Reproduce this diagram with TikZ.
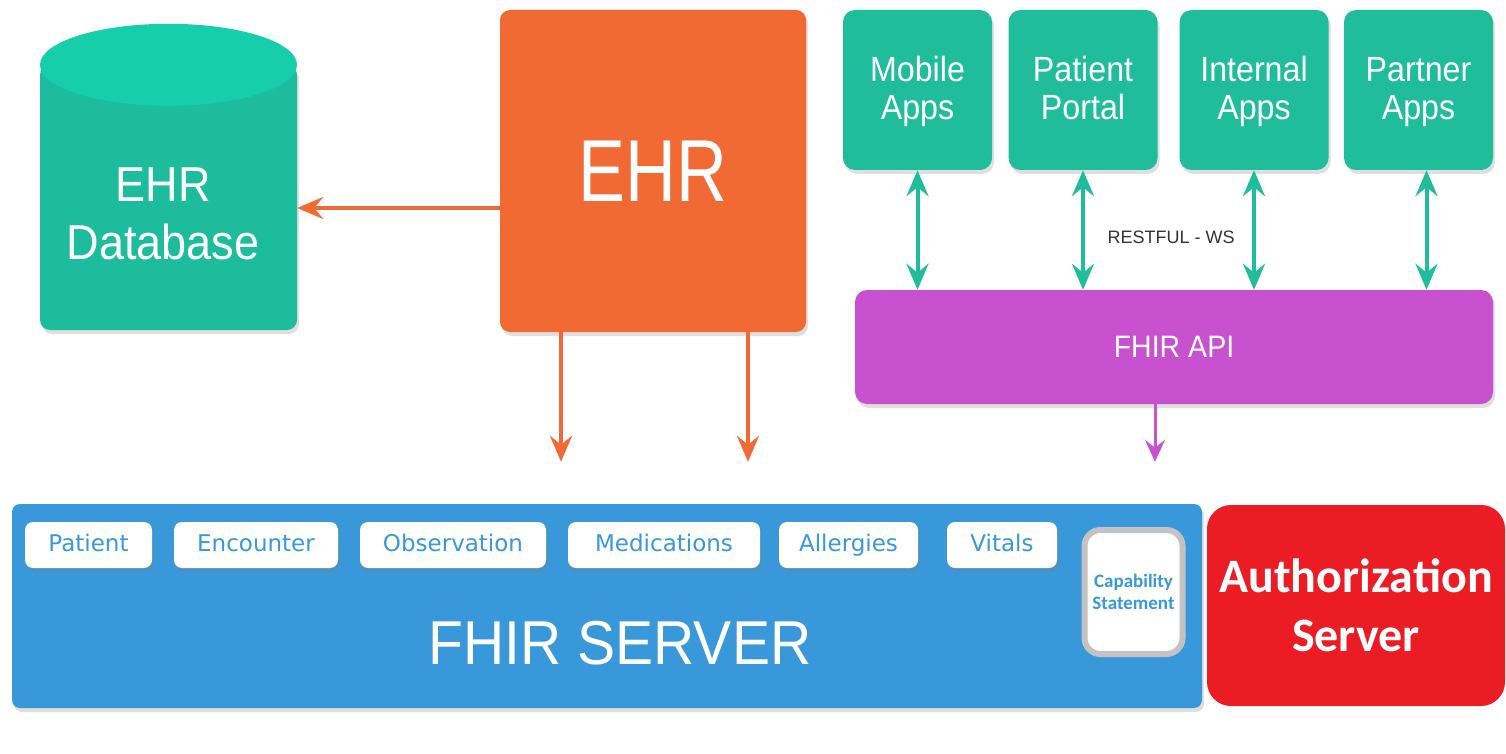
\documentclass[tikz,border=0pt]{standalone}
\usepackage{fontspec}
\setmainfont{Liberation Sans}[FakeStretch=0.92]
\newfontfamily\ehrfont{Liberation Sans}[FakeStretch=0.8]
\newfontfamily\plainfont{Liberation Sans}
\newfontfamily\pillfont{DejaVu Sans}
\newfontfamily\calfont{Carlito}
\usetikzlibrary{arrows.meta,shadows}
\definecolor{dbbody}{HTML}{1DBC9C}
\definecolor{dbtop}{HTML}{16CFAA}
\definecolor{app}{HTML}{1FBD9C}
\definecolor{ehr}{HTML}{F26A33}
\definecolor{api}{HTML}{C851CF}
\definecolor{server}{HTML}{3898DA}
\definecolor{auth}{HTML}{EC1C24}
\definecolor{capa}{HTML}{C3C3C3}
\definecolor{rest}{HTML}{333333}

\begin{document}
\begin{tikzpicture}[x=1pt, y=-1pt,
    shade/.style={drop shadow={shadow xshift=2pt, shadow yshift=-4pt, opacity=0.25}},
    app/.style={shape=rectangle, rounded corners=12pt, fill=app, text=white, align=center,
      minimum width=149pt, minimum height=160pt, text height=63pt, text depth=3pt,
      font=\fontsize{35}{38}\selectfont, shade},
    pill/.style={shape=rectangle, rounded corners=8pt, fill=white, text=server,
      minimum height=46pt, text height=17pt, text depth=5pt,
      font=\pillfont\fontsize{23}{24}\selectfont, shade},
    ehrline/.style={draw=ehr, line width=4pt, -{Stealth[length=26pt, width=22pt, inset=9pt]}},
    appline/.style={draw=app, line width=4pt, {Stealth[length=26pt, width=22pt, inset=9pt]}-{Stealth[length=26pt, width=22pt, inset=9pt]}},
    apiline/.style={draw=api, line width=3pt, -{Stealth[length=22pt, width=20pt, inset=8pt]}}]
  \useasboundingbox (0,0) rectangle (1506,754);

  % database on the left
  \node at (168.5,197.5) (db) [shape=rectangle, fill=dbbody, rounded corners=10pt,
    minimum width=257pt, minimum height=265pt, shade] {};
  \fill[dbtop] (db.north) ellipse (128.5 and 41);
  \node at (163,214) (dblabel) [text=white, align=center, font=\fontsize{49}{58}\selectfont] {EHR\\Database};

  % the EHR itself
  \node at (653,171) (ehr) [shape=rectangle, fill=ehr, rounded corners=10pt,
    minimum width=306pt, minimum height=322pt, text=white, font=\ehrfont\fontsize{88}{88}\selectfont, shade] {EHR};

  % client apps
  \node at (917.5,90) (mobile) [app] {Mobile\\Apps};
  \node at (1083,90) (portal) [app] {Patient\\Portal};
  \node at (1254,90) (internal) [app] {Internal\\Apps};
  \node at (1418.5,90) (partner) [app] {Partner\\Apps};

  \node at (1174,347) (api) [shape=rectangle, fill=api, rounded corners=12pt,
    minimum width=638pt, minimum height=114pt, text=white, font=\fontsize{31}{31}\selectfont, shade] {FHIR API};
  \node at (1171,237) (rest) [text=rest, font=\plainfont\fontsize{18}{18}\selectfont] {RESTFUL - WS};

  % server with its resources
  \node at (607,606) (server) [shape=rectangle, fill=server, rounded corners=8pt,
    minimum width=1190pt, minimum height=204pt, shade] {};
  \node at (620,643) (servertitle) [text=white, font=\fontsize{62}{62}\selectfont] {FHIR SERVER};

  \node at (88.5,545) (patient) [pill, minimum width=127pt] {Patient};
  \node at (256,545) (encounter) [pill, minimum width=164pt] {Encounter};
  \node at (453,545) (observation) [pill, minimum width=186pt] {Observation};
  \node at (664,545) (medications) [pill, minimum width=192pt] {Medications};
  \node at (848.5,545) (allergies) [pill, minimum width=139pt] {Allergies};
  \node at (1002,545) (vitals) [pill, minimum width=110pt] {Vitals};

  \node at (1133.5,592) (capability) [shape=rectangle, draw=capa, line width=6pt, fill=white,
    rounded corners=16pt, minimum width=98pt, minimum height=124pt, text=server, align=center,
    font=\calfont\bfseries\fontsize{19}{22}\selectfont] {Capability\\Statement};

  \node at (1356,605.5) (auth) [shape=rectangle, fill=auth, rounded corners=24pt,
    minimum width=298pt, minimum height=201pt, text=white, align=center,
    font=\calfont\bfseries\fontsize{48}{59}\selectfont] {Authorization\\Server};

  % connectors
  \draw[ehrline] ([yshift=-37pt]ehr.west) -- ([yshift=-10.5pt]db.east);
  \draw[ehrline, shorten >=42pt] ([xshift=-92pt]ehr.south) -- ([xshift=-92pt]ehr.south |- server.north);
  \draw[ehrline, shorten >=42pt] ([xshift=95pt]ehr.south) -- ([xshift=95pt]ehr.south |- server.north);

  \draw[appline] (mobile.south) -- (mobile.south |- api.north);
  \draw[appline] (portal.south) -- (portal.south |- api.north);
  \draw[appline] (internal.south) -- (internal.south |- api.north);
  \draw[appline] ([xshift=8pt]partner.south) -- ([xshift=8pt]partner.south |- api.north);

  \draw[apiline, shorten >=42pt] ([xshift=-19pt]api.south) -- ([xshift=-19pt]api.south |- server.north);
\end{tikzpicture}
\end{document}
